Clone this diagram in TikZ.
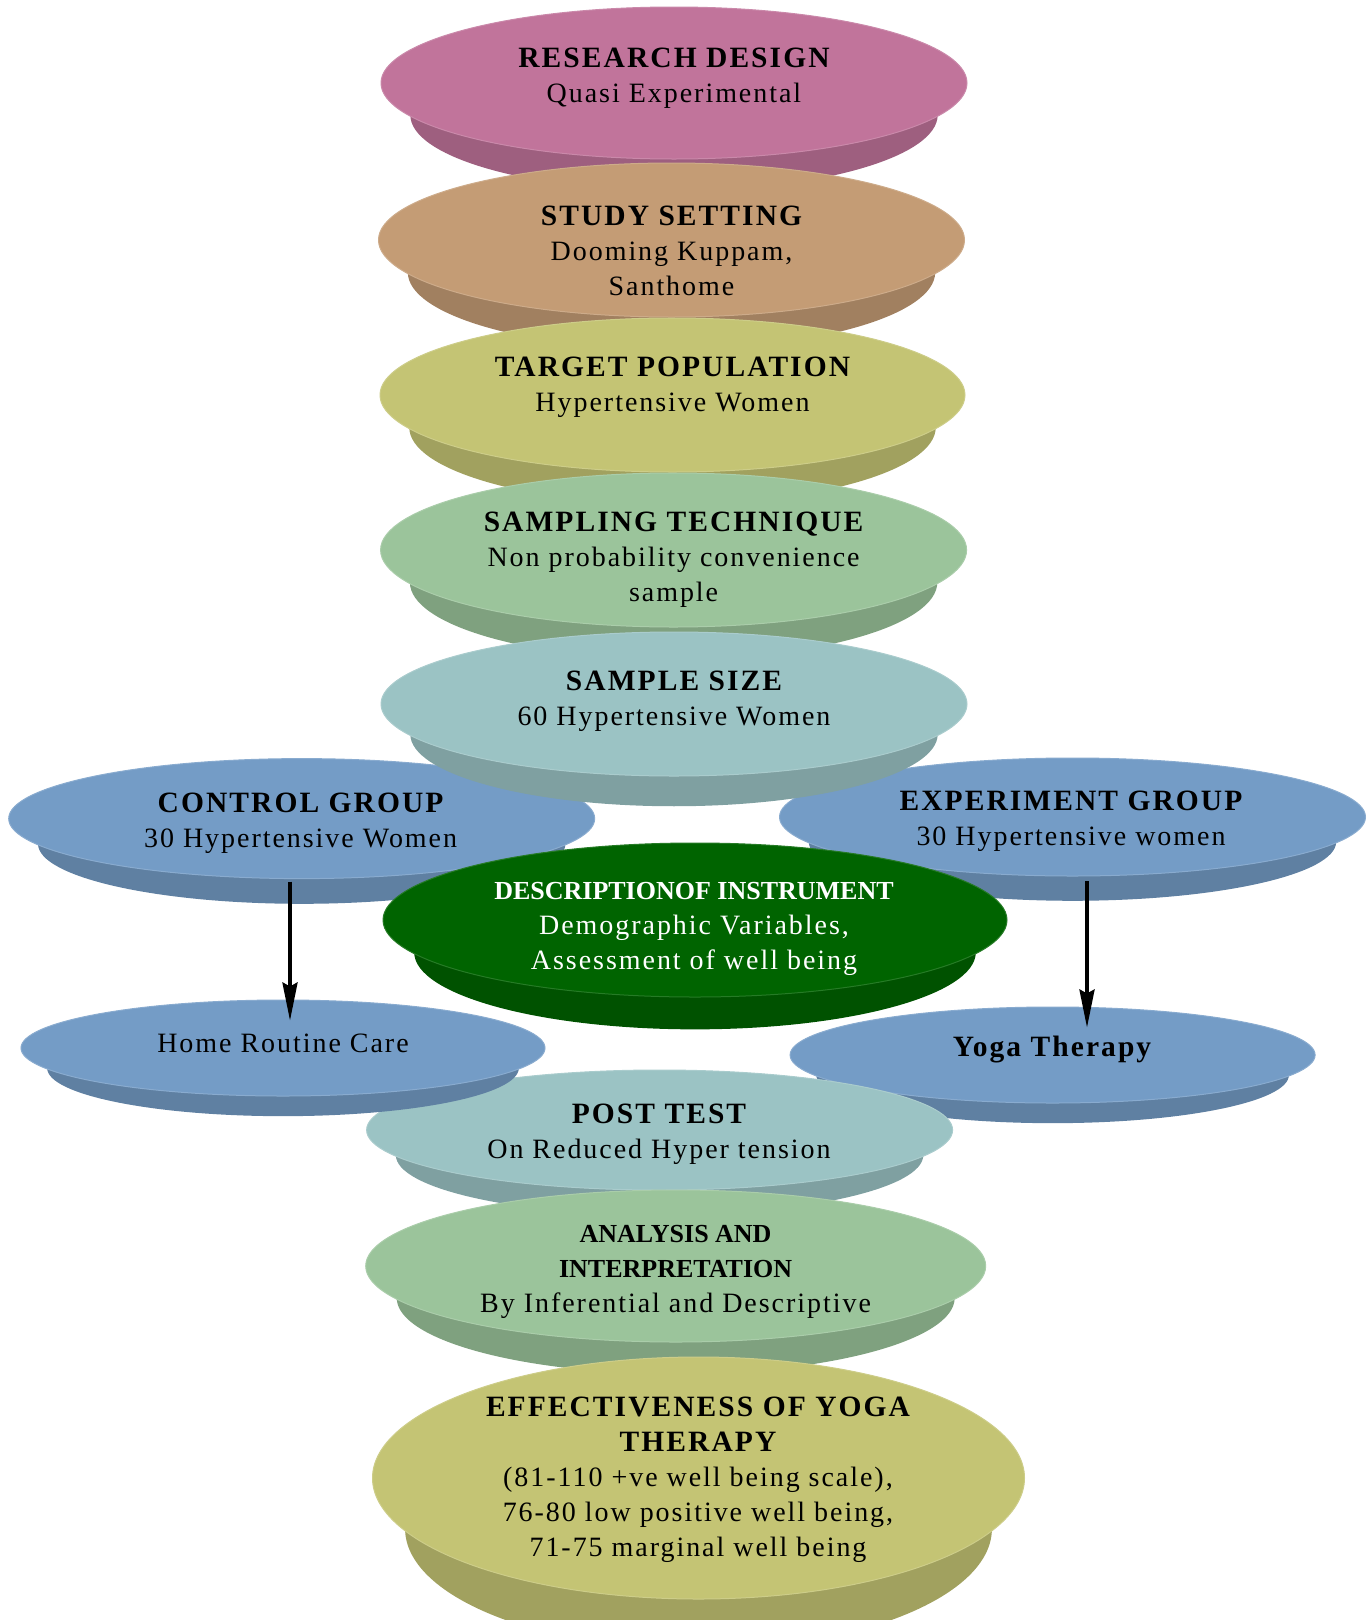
\documentclass[tikz,border=0pt]{standalone}
\usepackage{fontspec}
\setmainfont{Liberation Serif}[LetterSpace=7]
\newfontfamily\tightfont{Liberation Serif}
\usetikzlibrary{shapes.geometric,arrows.meta,positioning}
\definecolor{pinkface}{RGB}{193,116,155}
\definecolor{tanface}{RGB}{196,156,117}
\definecolor{oliveface}{RGB}{196,196,116}
\definecolor{greenface}{RGB}{155,196,155}
\definecolor{tealface}{RGB}{155,195,196}
\definecolor{blueface}{RGB}{116,156,198}
\definecolor{darkface}{RGB}{0,100,0}

\tikzset{
  face/.style={ellipse,inner sep=0pt,line width=1pt},
  lbl/.style={align=center,inner sep=0pt,yshift=-3.5pt,font=\fontsize{28}{35}\selectfont},
  flow/.style={line width=3.5pt,-{Stealth[length=38pt,width=15pt,inset=4pt]}}
}
% one disc: band below, then the top face
\newcommand{\disc}[6]{%
  \fill[#6!82!black] ({#2-#4},#3) -- ({#2-0.9*#4},{#3+0.42*#5}) -- ({#2+0.9*#4},{#3+0.42*#5}) -- ({#2+#4},#3) -- cycle;
  \fill[#6!82!black] (#2,{#3+0.42*#5}) ellipse [x radius={0.9*#4},y radius=#5];
  \node[face,fill=#6,draw=#6!85!white,minimum width={2*#4pt},minimum height={2*#5pt}] (#1) at (#2,#3) {};
}
\newcommand{\hd}[1]{{\bfseries\fontsize{29.5}{35}\selectfont #1}}
\newcommand{\hdtight}[1]{{\tightfont\bfseries\fontsize{26}{32}\selectfont #1}}

\begin{document}
\begin{tikzpicture}[x=1pt,y=-1pt]
\useasboundingbox (0,0) rectangle (1372,1620);
\clip (0,0) rectangle (1372,1620);

\disc{rd}{674}{83}{293}{76}{pinkface}
\node[lbl] (rd-t) at (674,74.5) {\hd{RESEARCH DESIGN}\\Quasi Experimental};

\disc{ss}{671.5}{240}{293}{77}{tanface}
\node[lbl] (ss-t) at (671.5,247) {\hd{STUDY SETTING}\\Dooming Kuppam,\\Santhome};

\disc{tp}{672.5}{395}{292.5}{77}{oliveface}
\node[lbl] (tp-t) at (672.5,383.5) {\hd{TARGET POPULATION}\\Hypertensive Women};

\disc{st}{673.6}{550}{293}{77}{greenface}
\node[lbl] (st-t) at (673.6,556) {\hd{SAMPLING TECHNIQUE}\\Non probability convenience\\sample};

\disc{cg}{301.7}{818.6}{293}{60}{blueface}
\node[lbl] (cg-t) at (300.6,819.5) {\hd{CONTROL GROUP}\\30 Hypertensive Women};

\disc{eg}{1072.5}{817}{293}{59}{blueface}
\node[lbl] (eg-t) at (1071,817.5) {\hd{EXPERIMENT GROUP}\\30 Hypertensive women};

\disc{sz}{674}{704}{293}{72}{tealface}
\node[lbl] (sz-t) at (674,697.5) {\hd{SAMPLE SIZE}\\60 Hypertensive Women};

\disc{yt}{1052.6}{1055}{262.5}{48}{blueface}
\node[lbl] (yt-t) at (1052,1046.5) {\hd{Yoga Therapy}};

\disc{pt}{659.6}{1130}{293}{60}{tealface}
\node[lbl] (pt-t) at (659,1131) {\hd{POST TEST}\\On Reduced Hyper tension};

\disc{hr}{283}{1048}{262}{48}{blueface}
\node[lbl] (hr-t) at (283,1040) {Home Routine Care};

\disc{di}{695}{920}{312}{77}{darkface}
\node[lbl,text=white] (di-t) at (694,925.6) {\hdtight{DESCRIPTIONOF INSTRUMENT}\\Demographic Variables,\\Assessment of well being};

\disc{ai}{675.7}{1266}{310}{76}{greenface}
\node[lbl] (ai-t) at (675.6,1268) {\hdtight{ANALYSIS AND}\\\hdtight{INTERPRETATION}\\By Inferential and Descriptive};

\disc{ey}{698.5}{1478}{326}{121}{oliveface}
\node[lbl] (ey-t) at (698,1476.5) {\hd{EFFECTIVENESS OF YOGA}\\\hd{THERAPY}\\(81-110 +ve well being scale),\\76-80 low positive well being,\\71-75 marginal well being};

\draw[flow] ([xshift=-11.7pt,yshift=-2.4pt]cg.south) -- ([xshift=7pt,yshift=-21pt]hr.north);
\draw[flow] ([xshift=14.5pt,yshift=-4.7pt]eg.south) -- ([xshift=34.4pt,yshift=-21pt]yt.north);
\end{tikzpicture}
\end{document}
